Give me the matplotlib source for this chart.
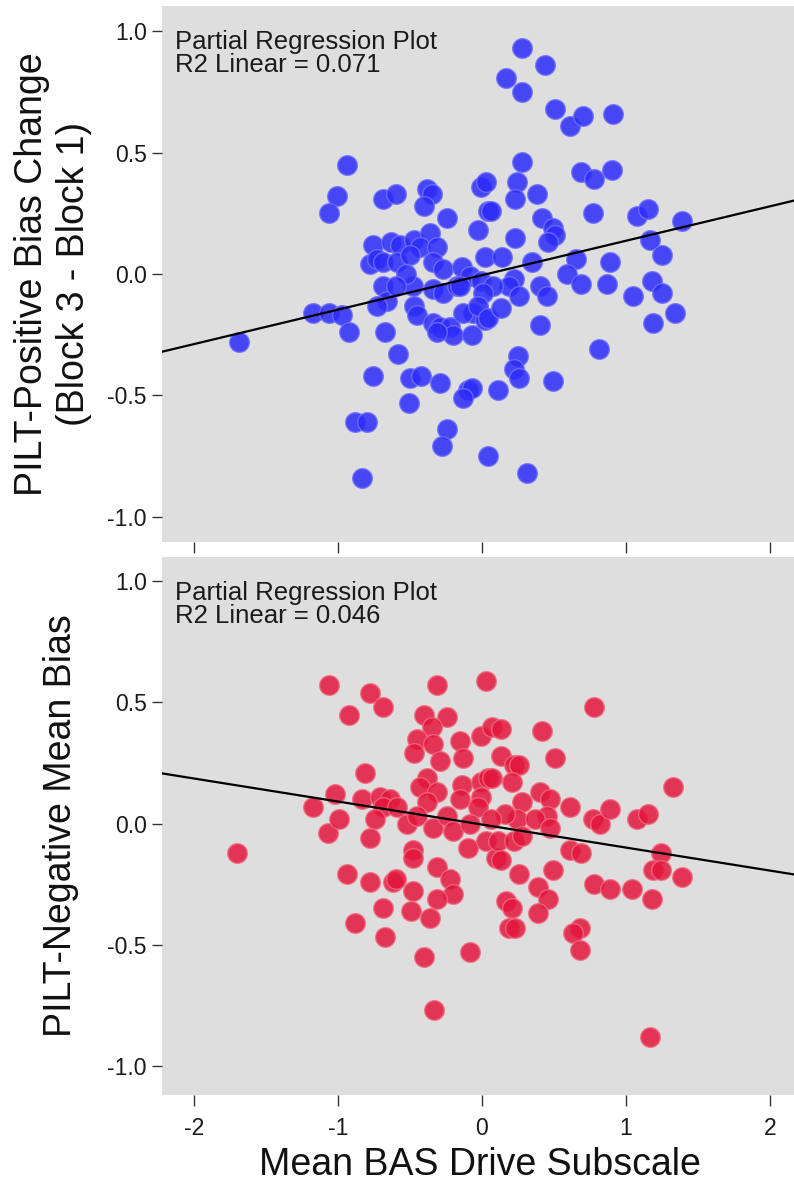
import matplotlib
matplotlib.use("Agg")
import matplotlib.pyplot as plt
import numpy as np

plt.rcParams['font.family'] = ['Liberation Sans', 'DejaVu Sans']

# ---------------- data ----------------
# Top panel: BAS drive (x) vs PILT-Positive bias change (y)
pos_x = [-1.69, -1.17, -1.06, -0.97, -0.92, -0.94, -1.01, -1.06, -0.69, -0.60,
         -0.38, -0.35, -0.40, -0.24, -0.01, 0.03, -0.03, 0.04, -0.76, -0.63,
         -0.57, -0.47, -0.36, -0.43, -0.78, -0.73, -0.69, -0.59, -0.50, -0.31,
         -0.34, -0.27, -0.14, 0.02, -0.69, -0.66, -0.73, -0.48, -0.47, -0.45,
         -0.34, -0.27, -0.17, -0.08, -0.01, -0.67, -0.58, -0.34, -0.29, -0.22,
         -0.20, -0.31, -0.07, -0.06, 0.02, -0.13, -0.76, -0.50, -0.42, -0.29,
         -0.10, -0.07, -0.13, -0.51, -0.88, -0.80, -0.24, -0.28, 0.04, -0.83,
         0.28, 0.44, 0.17, 0.28, 0.51, 0.61, 0.70, 0.91, 0.28, 0.24,
         0.23, 0.38, 0.06, 0.69, 0.78, 0.90, 0.77, 0.42, 0.49, 0.51,
         0.46, 1.08, 1.15, 1.39, 0.23, 0.14, 0.35, 0.65, 0.59, 0.69,
         0.89, 0.87, 1.17, 1.25, 1.18, 1.25, 1.05, 1.34, 1.19, 0.22,
         0.19, 0.26, 0.08, 0.01, -0.03, 0.04, 0.13, 0.40, 0.45, 0.40,
         0.81, 0.25, 0.22, 0.26, 0.49, 0.11, 0.31, -0.15, -0.53, -0.60]
pos_y = [-0.28, -0.16, -0.16, -0.17, -0.24, 0.45, 0.32, 0.25, 0.31, 0.33,
         0.35, 0.33, 0.28, 0.23, 0.36, 0.38, 0.18, 0.26, 0.12, 0.13,
         0.12, 0.14, 0.17, 0.11, 0.04, 0.06, 0.05, 0.05, 0.08, 0.11,
         0.05, 0.02, 0.03, 0.07, -0.05, -0.11, -0.13, -0.05, -0.13, -0.17,
         -0.06, -0.08, -0.05, -0.01, -0.03, -0.24, -0.33, -0.20, -0.22, -0.22,
         -0.25, -0.24, -0.25, -0.16, -0.19, -0.16, -0.42, -0.43, -0.42, -0.45,
         -0.48, -0.47, -0.51, -0.53, -0.61, -0.61, -0.64, -0.71, -0.75, -0.84,
         0.93, 0.86, 0.81, 0.75, 0.68, 0.61, 0.65, 0.66, 0.46, 0.38,
         0.31, 0.33, 0.26, 0.42, 0.39, 0.43, 0.25, 0.23, 0.19, 0.16,
         0.13, 0.24, 0.27, 0.22, 0.15, 0.07, 0.05, 0.06, 0.00, -0.04,
         0.05, -0.04, 0.14, 0.08, -0.03, -0.08, -0.09, -0.16, -0.20, -0.02,
         -0.05, -0.09, -0.05, -0.08, -0.13, -0.18, -0.14, -0.05, -0.09, -0.21,
         -0.31, -0.34, -0.39, -0.43, -0.44, -0.48, -0.82, -0.05, 0.00, -0.05]

# Bottom panel: BAS drive (x) vs PILT-Negative mean bias (y)
neg_x = [-1.70, -1.06, -0.92, -0.78, -0.69, -0.81, -1.17, -1.02, -1.07, -0.99,
         -0.94, -0.78, -0.62, -0.69, -0.88, -0.67, -0.31, 0.03, -0.40, -0.24,
         -0.35, -0.45, -0.47, -0.34, -0.15, -0.13, -0.01, 0.07, 0.13, 0.13,
         -0.29, -0.38, -0.43, -0.31, -0.14, -0.01, 0.04, -0.01, -0.03, -0.83,
         -0.71, -0.64, -0.69, -0.59, -0.38, -0.74, -0.78, -0.52, -0.45, -0.34,
         -0.24, -0.20, -0.10, 0.03, 0.10, -0.48, -0.48, -0.60, -0.31, -0.22,
         -0.20, -0.31, -0.48, -0.49, -0.36, -0.40, -0.08, 0.17, 0.19, 0.78,
         0.42, 0.51, 0.22, 0.26, 0.21, 0.07, 1.33, 0.28, 0.40, 0.47,
         0.45, 0.61, 0.24, 0.37, 0.47, 0.77, 0.82, 0.89, 1.08, 1.15,
         0.11, 0.22, 0.28, 0.13, 0.61, 0.69, 1.24, 1.19, 1.24, 1.39,
         0.26, 0.49, 0.39, 0.46, 0.39, 0.21, 0.23, 0.78, 0.89, 1.04,
         1.18, 0.68, 0.63, 0.68, -0.33, 1.17, 0.16, -0.08, 0.06, -0.15]
neg_y = [-0.12, 0.57, 0.45, 0.54, 0.48, 0.21, 0.07, 0.12, -0.04, 0.02,
         -0.21, -0.24, -0.24, -0.35, -0.41, -0.47, 0.57, 0.59, 0.45, 0.44,
         0.40, 0.35, 0.29, 0.33, 0.34, 0.27, 0.36, 0.40, 0.39, 0.28,
         0.26, 0.19, 0.15, 0.13, 0.16, 0.17, 0.19, 0.11, 0.07, 0.10,
         0.11, 0.10, 0.07, 0.07, 0.09, 0.02, -0.06, 0.00, 0.03, -0.02,
         0.03, -0.03, -0.10, -0.07, -0.14, -0.11, -0.14, -0.23, -0.18, -0.23,
         -0.29, -0.31, -0.28, -0.36, -0.39, -0.55, -0.53, -0.32, -0.43, 0.48,
         0.38, 0.27, 0.24, 0.24, 0.17, 0.19, 0.15, 0.09, 0.13, 0.10,
         0.03, 0.07, 0.02, 0.02, -0.02, 0.02, 0.00, 0.06, 0.02, 0.04,
         -0.07, -0.07, -0.05, -0.15, -0.11, -0.12, -0.12, -0.19, -0.19, -0.22,
         -0.21, -0.19, -0.26, -0.31, -0.37, -0.35, -0.43, -0.25, -0.27, -0.27,
         -0.31, -0.43, -0.45, -0.52, -0.77, -0.88, 0.04, 0.00, 0.02, 0.10]

# Fitted partial regression lines (slope, intercept)
pos_fit = [0.142, -0.005]
neg_fit = [-0.095, -0.004]

x_ticks = [-2, -1, 0, 1, 2]
x_ticklabels = ['-2', '-1', '0', '1', '2']
y_ticks = [-1.0, -0.5, 0.0, 0.5, 1.0]
y_ticklabels = ['-1.0', '-0.5', '0.0', '0.5', '1.0']

pos_note = "Partial Regression Plot\nR2 Linear = 0.071"
neg_note = "Partial Regression Plot\nR2 Linear = 0.046"

# ---------------- figure ----------------
W, H = 794, 1183
fig = plt.figure(figsize=(W / 100, H / 100), dpi=100)

def px_axes(l, t, r, b):
    return fig.add_axes([l / W, 1 - b / H, (r - l) / W, (b - t) / H])

ax1 = px_axes(162, 6, 794, 542)
ax2 = px_axes(162, 557, 794, 1095)

xlim = (-2.222, 2.167)
bg = '#dedede'

panels = [
    (ax1, pos_x, pos_y, pos_fit, pos_note, '#2b2bf8', '#7070ff', (-1.105, 1.105)),
    (ax2, neg_x, neg_y, neg_fit, neg_note, '#e3163c', '#f06a80', (-1.12, 1.10)),
]

for ax, xs, ys, fit, note, col, edge, ylim in panels:
    ax.set_facecolor(bg)
    for s in ax.spines.values():
        s.set_visible(False)
    ax.scatter(xs, ys, s=200, color=col, alpha=0.85, edgecolors=edge,
               linewidths=1.0, zorder=2)
    lx = np.array(xlim)
    ax.plot(lx, fit[0] * lx + fit[1], color='black', lw=1.6, zorder=3)
    ax.set_xlim(*xlim)
    ax.set_ylim(*ylim)
    ax.set_yticks(y_ticks)
    ax.set_yticklabels(y_ticklabels)
    ax.set_xticks(x_ticks)
    ax.tick_params(axis='y', direction='out', length=7, width=1.0,
                   color='#333333', pad=4, labelsize=16.5, labelcolor='#1a1a1a')
    ax.tick_params(axis='x', direction='out', length=8, width=1.0,
                   color='#333333', pad=8, labelsize=16.5, labelcolor='#1a1a1a')
    ax.text(0.02, 0.955, note, transform=ax.transAxes, ha='left', va='top',
            fontsize=18.5, color='#1a1a1a', linespacing=0.95)

ax1.set_xticklabels([])
ax2.set_xticklabels(x_ticklabels)

fig.text(53 / W, 1 - 274 / H, "PILT-Positive Bias Change\n(Block 3 - Block 1)",
         rotation=90, ha='center', va='center', fontsize=27, color='#111111',
         linespacing=1.2)
fig.text(61 / W, 1 - 826 / H, "PILT-Negative Mean Bias",
         rotation=90, ha='center', va='center', fontsize=27, color='#111111')
fig.text(480 / W, 1 - 1175 / H, "Mean BAS Drive Subscale",
         ha='center', va='baseline', fontsize=27, color='#111111')

fig.savefig("out.png", dpi=100)
